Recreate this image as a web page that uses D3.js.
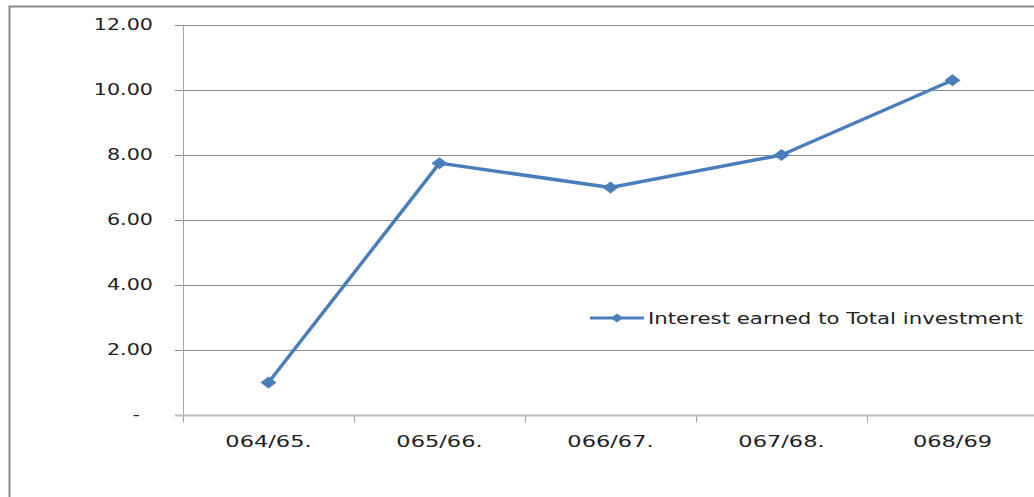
<!DOCTYPE html>
<html lang="en">
  <head>
    <meta charset="UTF-8" />
    <script src="https://d3js.org/d3.v7.min.js"></script>
    <title>Interest earned to Total investment</title>
    <style>
      body {
        margin: 0;
        background: #fff;
      }
      text {
        font-family: "DejaVu Sans", Verdana, sans-serif;
        fill: #222;
      }
    </style>
  </head>
  <body>
    <svg id="chart" width="1034" height="497"></svg>
    <script>
      const years = ["064/65.", "065/66.", "066/67.", "067/68.", "068/69"];
      const ratio = [1.0, 7.75, 7.0, 8.0, 10.3];
      const yTicks = [0, 2, 4, 6, 8, 10, 12];
      const seriesName = "Interest earned to Total investment";

      const width = 1034;
      const height = 497;
      const margin = { top: 25, right: -4, bottom: 82, left: 183 };
      // the source picture is widened, so text is stretched sideways
      const stretchY = 1.38;
      const stretchX = 1.5;
      const stretchLegend = 1.42;

      const svg = d3.select("#chart");

      // outer frame, only the left and top edges show in the picture
      svg.append("path")
        .attr("d", `M9.5,${height} V6.5 H${width}`)
        .attr("fill", "none")
        .attr("stroke", "#8a8a8a")
        .attr("stroke-width", 2);

      const x = d3.scaleBand()
        .domain(years)
        .range([margin.left, width - margin.right]);

      const y = d3.scaleLinear()
        .domain([0, 12])
        .range([height - margin.bottom, margin.top]);

      // gridlines
      svg.append("g")
        .selectAll("line")
        .data(yTicks.filter(d => d > 0))
        .join("line")
        .attr("x1", margin.left - 8)
        .attr("x2", width)
        .attr("y1", d => Math.round(y(d)) + 0.5)
        .attr("y2", d => Math.round(y(d)) + 0.5)
        .attr("stroke", "#8c8c8c");

      // y axis line
      svg.append("line")
        .attr("x1", margin.left + 0.5)
        .attr("x2", margin.left + 0.5)
        .attr("y1", y(12))
        .attr("y2", y(0))
        .attr("stroke", "#a6a6a6");

      // x axis with ticks between categories
      const xAxisY = Math.round(y(0)) + 0.5;
      svg.append("line")
        .attr("x1", margin.left - 8)
        .attr("x2", width)
        .attr("y1", xAxisY)
        .attr("y2", xAxisY)
        .attr("stroke", "#bdbdbd")
        .attr("stroke-width", 2);

      const bounds = years.map(d => x(d)).concat([x.range()[1]]);
      svg.append("g")
        .selectAll("line")
        .data(bounds)
        .join("line")
        .attr("x1", d => Math.round(d) + 0.5)
        .attr("x2", d => Math.round(d) + 0.5)
        .attr("y1", xAxisY)
        .attr("y2", xAxisY + 7)
        .attr("stroke", "#a6a6a6");

      // y labels
      svg.append("g")
        .selectAll("text")
        .data(yTicks)
        .join("text")
        .attr("transform", d => `translate(${d === 0 ? 140 : 153},${y(d) + 5}) scale(${stretchY},1)`)
        .attr("text-anchor", "end")
        .style("font-size", "15px")
        .text(d => (d === 0 ? "-" : d.toFixed(2)));

      // x labels
      svg.append("g")
        .selectAll("text")
        .data(years)
        .join("text")
        .attr("transform", d => `translate(${x(d) + x.bandwidth() / 2},447) scale(${stretchX},1)`)
        .attr("text-anchor", "middle")
        .style("font-size", "15px")
        .text(d => d);

      const blue = "#4a7ebb";
      const cx = d => x(d) + x.bandwidth() / 2;

      const line = d3.line()
        .x((d, i) => cx(years[i]))
        .y(d => y(d));

      svg.append("path")
        .datum(ratio)
        .attr("d", line)
        .attr("fill", "none")
        .attr("stroke", blue)
        .attr("stroke-width", 3.5)
        .attr("stroke-linejoin", "round");

      const diamond = "M0,-6 L8,0 L0,6 L-8,0 Z";
      svg.append("g")
        .selectAll("path")
        .data(ratio)
        .join("path")
        .attr("transform", (d, i) => `translate(${cx(years[i])},${y(d)})`)
        .attr("d", diamond)
        .attr("fill", blue);

      // legend
      const lg = svg.append("g").attr("transform", "translate(590,318)");
      lg.append("line")
        .attr("x1", 0)
        .attr("x2", 54)
        .attr("stroke", blue)
        .attr("stroke-width", 3);
      lg.append("path")
        .attr("transform", "translate(27,0)")
        .attr("d", "M0,-4.5 L6,0 L0,4.5 L-6,0 Z")
        .attr("fill", blue);
      lg.append("text")
        .attr("transform", `translate(58,6) scale(${stretchLegend},1)`)
        .style("font-size", "15px")
        .text(seriesName);
    </script>
  </body>
</html>
